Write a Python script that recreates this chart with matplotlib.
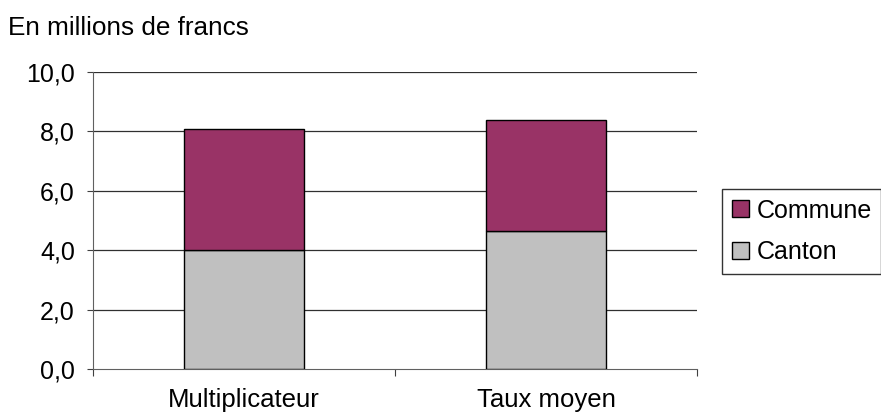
import matplotlib
matplotlib.use("Agg")
import matplotlib.pyplot as plt
import numpy as np

categories = ["Multiplicateur", "Taux moyen"]
canton = [4.0, 4.63]
commune = [4.08, 3.74]
yticks = [0, 2, 4, 6, 8, 10]
ytick_labels = ["0,0", "2,0", "4,0", "6,0", "8,0", "10,0"]

plt.rcParams['font.family'] = ['Liberation Sans', 'DejaVu Sans']
FS = 18

fig = plt.figure(figsize=(8.81, 4.17), dpi=100)
ax = fig.add_axes([93/881, 1-369/417, (697-93)/881, (369-72)/417])

x = np.arange(len(categories))
w = 0.4
b1 = ax.bar(x, canton, w, color="#C0C0C0", edgecolor="black", linewidth=1, label="Canton", zorder=3)
b2 = ax.bar(x, commune, w, bottom=canton, color="#993366", edgecolor="black", linewidth=1, label="Commune", zorder=3)

ax.set_xlim(-0.5, 1.5)
ax.set_ylim(0, 10)
ax.set_yticks(yticks)
ax.set_yticklabels(ytick_labels, fontsize=FS)
ax.set_xticks([-0.5, 0.5, 1.5])
ax.set_xticklabels([])
ax.set_xticks(x, minor=True)
ax.set_xticklabels(categories, minor=True, fontsize=18.5)
ax.tick_params(axis='x', which='minor', length=0, pad=14)
ax.tick_params(axis='x', which='major', length=5, color='#404040', direction='out')
ax.tick_params(axis='y', length=4, color='#404040', pad=9)
for y in yticks[1:]:
    ax.axhline(y, color="#303030", linewidth=0.9, zorder=1)
for s in ["top", "right"]:
    ax.spines[s].set_visible(False)
ax.spines["left"].set_color("#606060")
ax.spines["bottom"].set_color("#606060")

fig.text(8/881, 1-28/417, "En millions de francs", fontsize=18.8, va="center", ha="left")

leg = fig.legend([b2, b1], ["Commune", "Canton"], loc="upper left",
                 bbox_to_anchor=(722/881, 1-189/417), fontsize=FS,
                 frameon=True, fancybox=False, edgecolor="black",
                 handlelength=0.68, handleheight=0.68, handletextpad=0.32,
                 borderpad=0.38, labelspacing=0.7, borderaxespad=0)
leg.get_frame().set_linewidth(1)

fig.savefig("out.png", dpi=100)
